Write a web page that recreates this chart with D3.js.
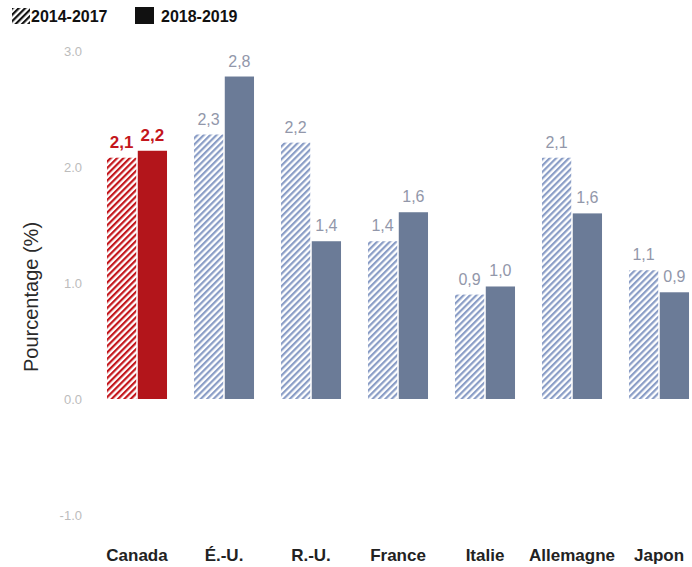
<!DOCTYPE html>
<html><head><meta charset="utf-8">
<script src="https://cdn.jsdelivr.net/npm/d3@7"></script>
<style>body{margin:0;background:#fff;}svg{display:block;font-family:"Liberation Sans",Arial,sans-serif;}</style>
</head><body><svg id="c" width="692" height="567"></svg>
<script>
const categories = ["Canada","É.-U.","R.-U.","France","Italie","Allemagne","Japon"];
const series = ["2014-2017","2018-2019"];
const values2014 = [2.08,2.28,2.21,1.36,0.90,2.08,1.11];
const values2018 = [2.14,2.78,1.36,1.61,0.97,1.60,0.92];
const labels2014 = ["2,1","2,3","2,2","1,4","0,9","2,1","1,1"];
const labels2018 = ["2,2","2,8","1,4","1,6","1,0","1,6","0,9"];
const yTicks = [-1,0,1,2,3];

const svg = d3.select("#c");
const defs = svg.append("defs");
function hatch(id, color){
  const p = defs.append("pattern").attr("id",id).attr("patternUnits","userSpaceOnUse")
    .attr("width",4.5).attr("height",4.5).attr("patternTransform","rotate(45)");
  p.append("rect").attr("width",4.5).attr("height",4.5).attr("fill","#fff");
  p.append("rect").attr("x",0).attr("y",0).attr("width",2.2).attr("height",4.5).attr("fill",color);
}
hatch("hRed","#c4161c");
hatch("hBlue","#8a9dc6");
hatch("hBlack","#111");

const y = d3.scaleLinear().domain([-1,3]).range([515,51]);
const x0 = d3.scaleBand().domain(categories).range([93.5,702.5]).paddingInner(0.31).paddingOuter(0.155);
const x1 = d3.scaleBand().domain(series).range([0,x0.bandwidth()]).paddingInner(0.05);

// y axis ticks
const fmt = d3.format(".1f");
const yAxis = d3.axisLeft(y).tickValues(yTicks).tickFormat(d=>fmt(d).replace("−","-")).tickSize(0).tickPadding(0);
const ga = svg.append("g").attr("transform","translate(82,0)").call(yAxis);
ga.select(".domain").remove();
ga.selectAll("text").attr("fill","#bcbcbc").style("font-size","13px").style("font-family","'Liberation Sans',Arial,sans-serif");

// y title
svg.append("text").attr("transform","translate(38,297) rotate(-90)").attr("text-anchor","middle")
  .attr("fill","#2a2a2a").style("font-size","20px").text("Pourcentage (%)");

const rows = categories.map((c,i)=>({c,i,vals:[values2014[i],values2018[i]],labs:[labels2014[i],labels2018[i]]}));
const g = svg.append("g");
rows.forEach(r=>{
  const isCan = r.c==="Canada";
  series.forEach((s,j)=>{
    const v = r.vals[j];
    const xx = x0(r.c)+x1(s);
    g.append("rect").attr("x",xx).attr("width",x1.bandwidth())
      .attr("y",y(v)).attr("height",y(0)-y(v))
      .attr("fill", j===0 ? (isCan?"url(#hRed)":"url(#hBlue)") : (isCan?"#b3151b":"#6b7b97"));
    g.append("text").attr("x",xx+x1.bandwidth()/2).attr("y",y(v)-10).attr("text-anchor","middle")
      .attr("fill",isCan?"#c4161c":"#9297aa").style("font-size",isCan?"17px":"16px").style("font-weight",isCan?"bold":"normal")
      .text(r.labs[j]);
  });
});

// x axis labels
const xAxis = d3.axisBottom(x0).tickSize(0).tickPadding(0);
const gx = svg.append("g").attr("transform","translate(0,549)").call(xAxis);
gx.select(".domain").remove();
gx.selectAll("text").attr("fill","#222").style("font-size","17px").style("font-weight","bold")
  .style("font-family","'Liberation Sans',Arial,sans-serif").attr("dy","0.71em");

// legend
const leg = svg.append("g");
leg.append("rect").attr("x",12).attr("y",8).attr("width",18).attr("height",16).attr("fill","url(#hBlack)");
leg.append("text").attr("x",31).attr("y",22).attr("fill","#111").style("font-size","16px").style("font-weight","bold").text(series[0]);
leg.append("rect").attr("x",135).attr("y",7).attr("width",19).attr("height",17).attr("fill","#111");
leg.append("text").attr("x",161).attr("y",22).attr("fill","#111").style("font-size","16px").style("font-weight","bold").text(series[1]);
</script></body></html>
